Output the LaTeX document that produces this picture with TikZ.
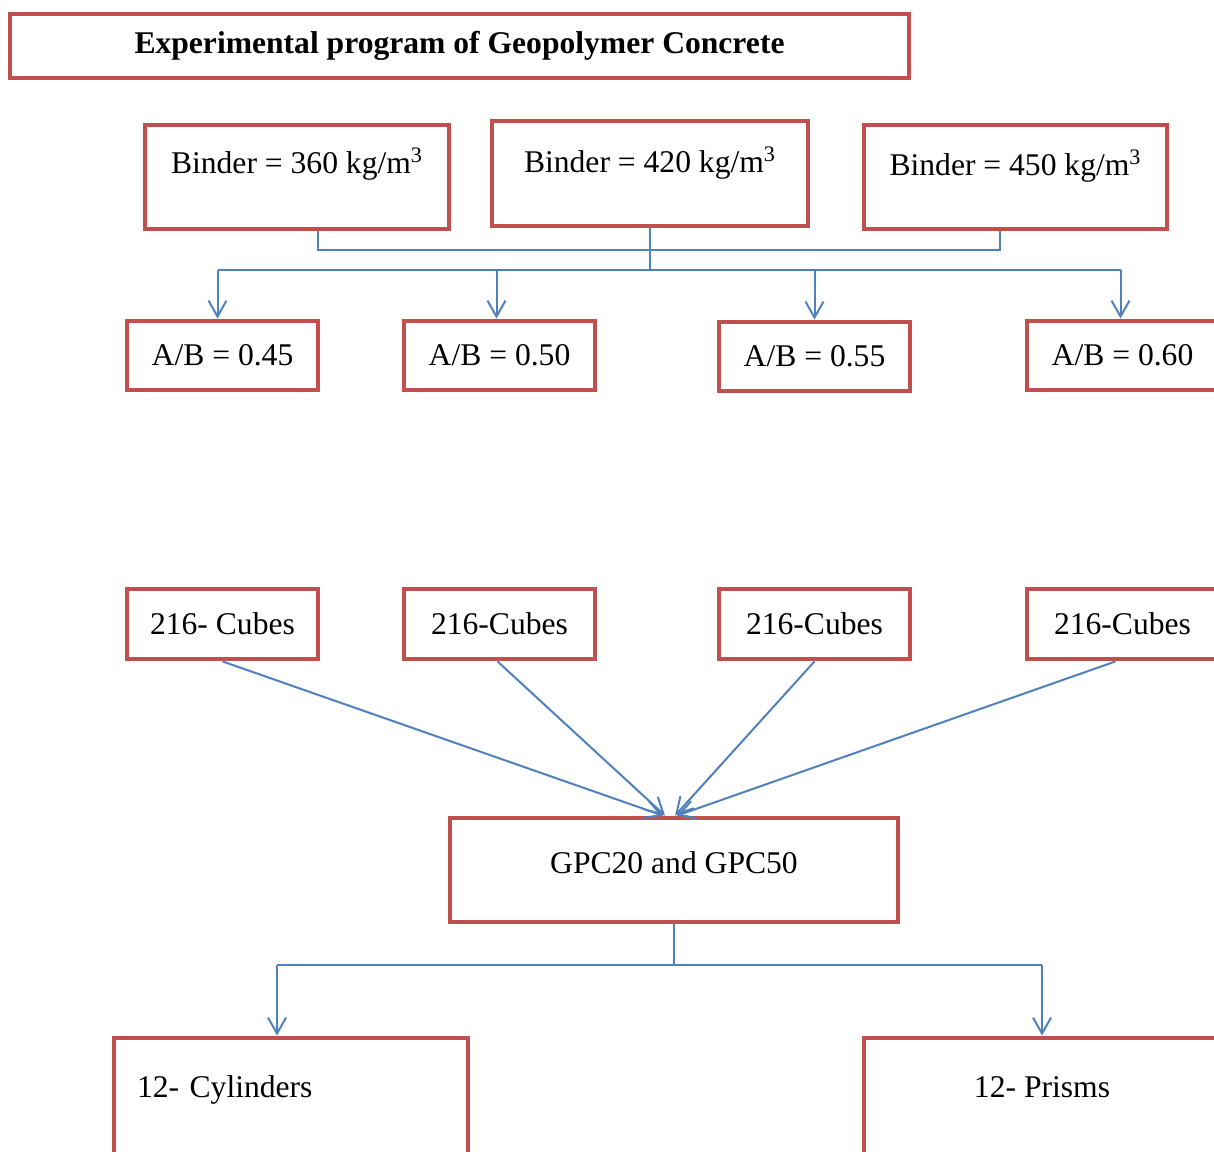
\documentclass[tikz,border=0pt]{standalone}
\usepackage{fontspec}
\setmainfont{Liberation Serif}
\usetikzlibrary{arrows.meta,positioning,calc}
\definecolor{Red}{HTML}{C0504D}
\definecolor{Blue}{HTML}{4F81BD}

\begin{document}
\begin{tikzpicture}[x=0.5pt,y=-0.5pt,
    n/.style={draw=Red,line width=2.4pt,inner sep=0pt,align=center,font=\fontsize{15.8}{19}\selectfont},
    l/.style={draw=Blue,line width=1pt},
    a/.style={l,-{Straight Barb[length=8pt,width=9pt]}}]
    \clip (0,0) rectangle (1214,1151);
    \fill[white] (0,0) rectangle (1214,1151);
    % title
    \node[n,font=\bfseries\fontsize{15.8}{19}\selectfont,minimum width=449.5pt,minimum height=32pt] (t) at (459.5,46) {Experimental program of Geopolymer Concrete};
    % binder contents
    \node[n,minimum width=152pt,text height=24pt,text depth=28pt] (b1) at (297,177) {Binder = 360 kg/m\textsuperscript{3}};
    \node[n,minimum width=158pt,text height=25.5pt,text depth=27pt] (b2) at (650,173.5) {Binder = 420 kg/m\textsuperscript{3}};
    \node[n,minimum width=151.5pt,text height=25pt,text depth=27pt] (b3) at (1015.5,177) {Binder = 450 kg/m\textsuperscript{3}};
    % A/B ratios
    \node[n,minimum width=95.5pt,minimum height=34.5pt] (r1) at (222.5,355.5) {A/B = 0.45};
    \node[n,minimum width=95.5pt,minimum height=34.5pt] (r2) at (499.5,355.5) {A/B = 0.50};
    \node[n,minimum width=95.5pt,minimum height=34.5pt] (r3) at (814.5,356.5) {A/B = 0.55};
    \node[n,minimum width=95.5pt,minimum height=34.5pt] (r4) at (1122.5,355.5) {A/B = 0.60};
    % specimens
    \node[n,minimum width=95.5pt,minimum height=35pt] (c1) at (222.5,624) {216- Cubes};
    \node[n,minimum width=95.5pt,minimum height=35pt] (c2) at (499.5,624) {216-Cubes};
    \node[n,minimum width=95.5pt,minimum height=35pt] (c3) at (814.5,624) {216-Cubes};
    \node[n,minimum width=95.5pt,minimum height=35pt] (c4) at (1122.5,624) {216-Cubes};
    \node[n,minimum width=224pt,text height=27.5pt,text depth=24.5pt] (g) at (674,870) {GPC20 and GPC50};
    \node[n,align=left,text width=154pt,inner xsep=11.5pt,text height=29.5pt,text depth=35.5pt] (cy) at (291,1103) {12- Cylinders};
    \node[n,minimum width=178pt,text height=29.5pt,text depth=35.5pt] (pr) at (1042,1103) {12- Prisms};
    % connectors
    \coordinate (u1) at (318,250); \coordinate (u3) at (1000,250); \coordinate (k) at (652,270);
    \draw[l] (u1 |- b1.south) -- (u1) -- (u3) -- (u3 |- b3.south);
    \draw[l] (b2.south) -- (b2.south |- k);
    \foreach \i/\dx in {1/-5,2/-3,3/0,4/-2} \coordinate (k\i) at ($(r\i.north |- k)+(\dx,0)$);
    \draw[l] (k1) -- (k4);
    \foreach \i in {1,...,4} \draw[a] (k\i) -- (k\i |- r\i.north);
    \foreach \i/\sx/\dx in {1/0/-11,2/-2/-9,3/0/1,4/-7/3} \draw[a] ($(c\i.south)+(\sx,0)$) -- ($(g.north)+(\dx,0)$);
    \coordinate (m) at (674,965); \coordinate (ml) at (277,965); \coordinate (mr) at (1042,965);
    \draw[l] (g.south) -- (m);
    \draw[l] (ml) -- (mr);
    \draw[a] (ml) -- (ml |- cy.north);
    \draw[a] (mr) -- (pr.north);
\end{tikzpicture}
\end{document}
